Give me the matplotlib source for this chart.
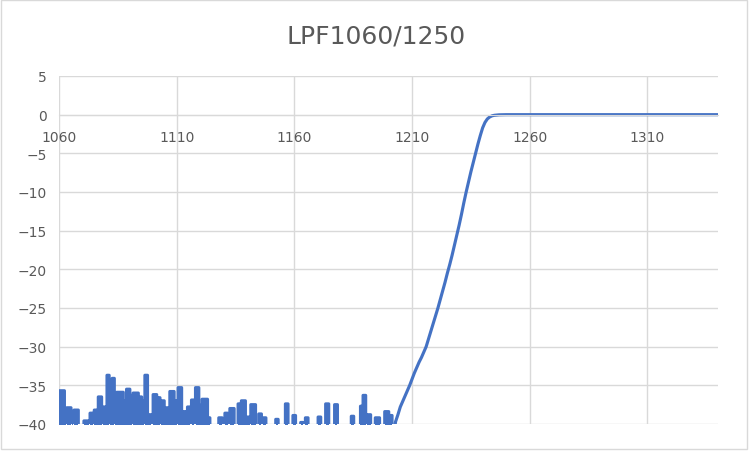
import matplotlib
matplotlib.use("Agg")
import matplotlib.pyplot as plt
from matplotlib.patches import Rectangle

title = "LPF1060/1250"
x_ticks = [1060, 1110, 1160, 1210, 1260, 1310]
y_ticks = [5, 0, -5, -10, -15, -20, -25, -30, -35, -40]

# noise floor spikes (start nm, end nm, level dB), below -40 is off scale
noise_start = [1060.0, 1062.3, 1063.3, 1065.4, 1066.4, 1070.6, 1073.2, 1075.0, 1076.7,
               1078.8, 1080.4, 1081.6, 1082.6, 1083.8, 1084.5, 1087.3, 1088.7, 1090.1,
               1091.5, 1093.7, 1095.1, 1096.5, 1097.6, 1100.0, 1101.5, 1103.3, 1104.7,
               1105.7, 1107.1, 1108.9, 1110.6, 1112.1, 1114.6, 1116.3, 1118.0, 1119.4,
               1120.8, 1123.1, 1127.9, 1130.5, 1132.6, 1136.1, 1137.5, 1139.2, 1141.5,
               1144.9, 1146.7, 1152.1, 1156.2, 1159.4, 1162.7, 1164.7, 1170.1, 1173.3,
               1177.1, 1184.2, 1188.1, 1189.2, 1191.0, 1194.4, 1198.4, 1200.1]
noise_end = [1062.3, 1063.0, 1065.1, 1066.1, 1068.2, 1072.9, 1074.6, 1076.4, 1078.1,
             1080.2, 1081.3, 1082.4, 1083.5, 1084.5, 1087.3, 1088.7, 1090.1, 1091.1,
             1093.7, 1095.1, 1096.2, 1097.6, 1099.3, 1101.5, 1102.9, 1104.7, 1105.7,
             1107.1, 1108.9, 1110.0, 1112.1, 1114.6, 1115.6, 1117.4, 1119.4, 1120.6,
             1123.1, 1124.1, 1129.3, 1131.6, 1134.4, 1137.3, 1139.2, 1141.1, 1143.5,
             1146.0, 1147.9, 1153.1, 1157.3, 1160.5, 1163.7, 1165.8, 1171.2, 1174.6,
             1178.3, 1185.2, 1189.2, 1190.3, 1192.4, 1196.2, 1200.1, 1201.5]
noise_level = [-35.7, -38.4, -37.9, -38.7, -38.2, -39.6, -38.6, -38.2, -36.5,
               -37.8, -33.7, -37.0, -34.1, -37.5, -35.9, -37.0, -35.5, -36.4,
               -36.0, -36.5, -37.0, -33.7, -38.8, -36.2, -36.6, -37.0, -38.8,
               -37.9, -35.8, -37.0, -35.3, -38.4, -37.8, -36.9, -35.3, -37.6,
               -36.8, -39.2, -39.2, -38.6, -38.0, -37.4, -37.0, -39.1, -37.5,
               -38.7, -39.2, -39.4, -37.4, -38.9, -39.8, -39.2, -39.1, -37.4,
               -37.5, -39.0, -37.7, -36.3, -38.8, -39.2, -38.4, -38.9]
floor_db = -45

# filter edge and pass band
edge_wl = [1202.5, 1203, 1204, 1205, 1206, 1207, 1208, 1209, 1210, 1211, 1212, 1213,
           1214, 1215, 1216, 1217, 1218, 1219, 1220, 1221, 1222, 1223, 1224, 1225,
           1226, 1227, 1228, 1229, 1230, 1231, 1232, 1233, 1234, 1235, 1236, 1237,
           1238, 1239, 1240, 1241, 1242, 1243, 1244, 1245, 1247, 1250, 1340]
edge_db = [-41, -39.7, -38.8, -37.8, -37.1, -36.4, -35.7, -35.0, -34.2, -33.4, -32.7, -32.0,
           -31.4, -30.7, -30.0, -29.0, -28.0, -27.0, -26.0, -25.0, -23.9, -22.8, -21.7, -20.5,
           -19.4, -18.2, -16.9, -15.6, -14.3, -12.9, -11.4, -10.0, -8.7, -7.4, -6.2, -5.0,
           -3.8, -2.7, -1.7, -1.0, -0.55, -0.3, -0.15, -0.08, -0.02, 0.0, 0.0]

noise_wl, noise_db = [], []
for s, e, lvl in zip(noise_start, noise_end, noise_level):
    noise_wl += [s, s, e, e]
    noise_db += [floor_db, lvl, lvl, floor_db]

blue = "#4472C4"
grey = "#595959"
grid = "#D9D9D9"

fig = plt.figure(figsize=(7.52, 4.52), dpi=100)
ax = fig.add_axes([59 / 752, 1 - 425 / 452, (718 - 59) / 752, (425 - 77) / 452])

# dense noise samples read as solid spikes
ax.fill_between(noise_wl, noise_db, floor_db, color=blue, lw=0)
ax.plot(noise_wl + edge_wl, noise_db + edge_db, color=blue, lw=2.25,
        solid_joinstyle="round")

ax.set_xlim(1060, 1340)
ax.set_ylim(-40, 5)
ax.set_xticks(x_ticks)
ax.set_yticks(y_ticks)
ax.grid(True, color=grid, lw=1.0)
ax.set_axisbelow(True)
for side in ["top", "right", "left"]:
    ax.spines[side].set_visible(False)
ax.spines["bottom"].set_position(("data", 0))
ax.spines["bottom"].set_color(grid)
ax.tick_params(axis="both", length=0, labelsize=10, labelcolor=grey)
ax.tick_params(axis="x", pad=11)
ax.tick_params(axis="y", pad=9)

fig.text(0.5, 1 - 36 / 452, title, ha="center", va="center", fontsize=18, color=grey)

fig.patches.append(Rectangle((1 / 752, 2 / 452), 746 / 752, 449 / 452,
                             transform=fig.transFigure, fill=False,
                             edgecolor=grid, lw=1.0))

fig.savefig("out.png", dpi=100)
